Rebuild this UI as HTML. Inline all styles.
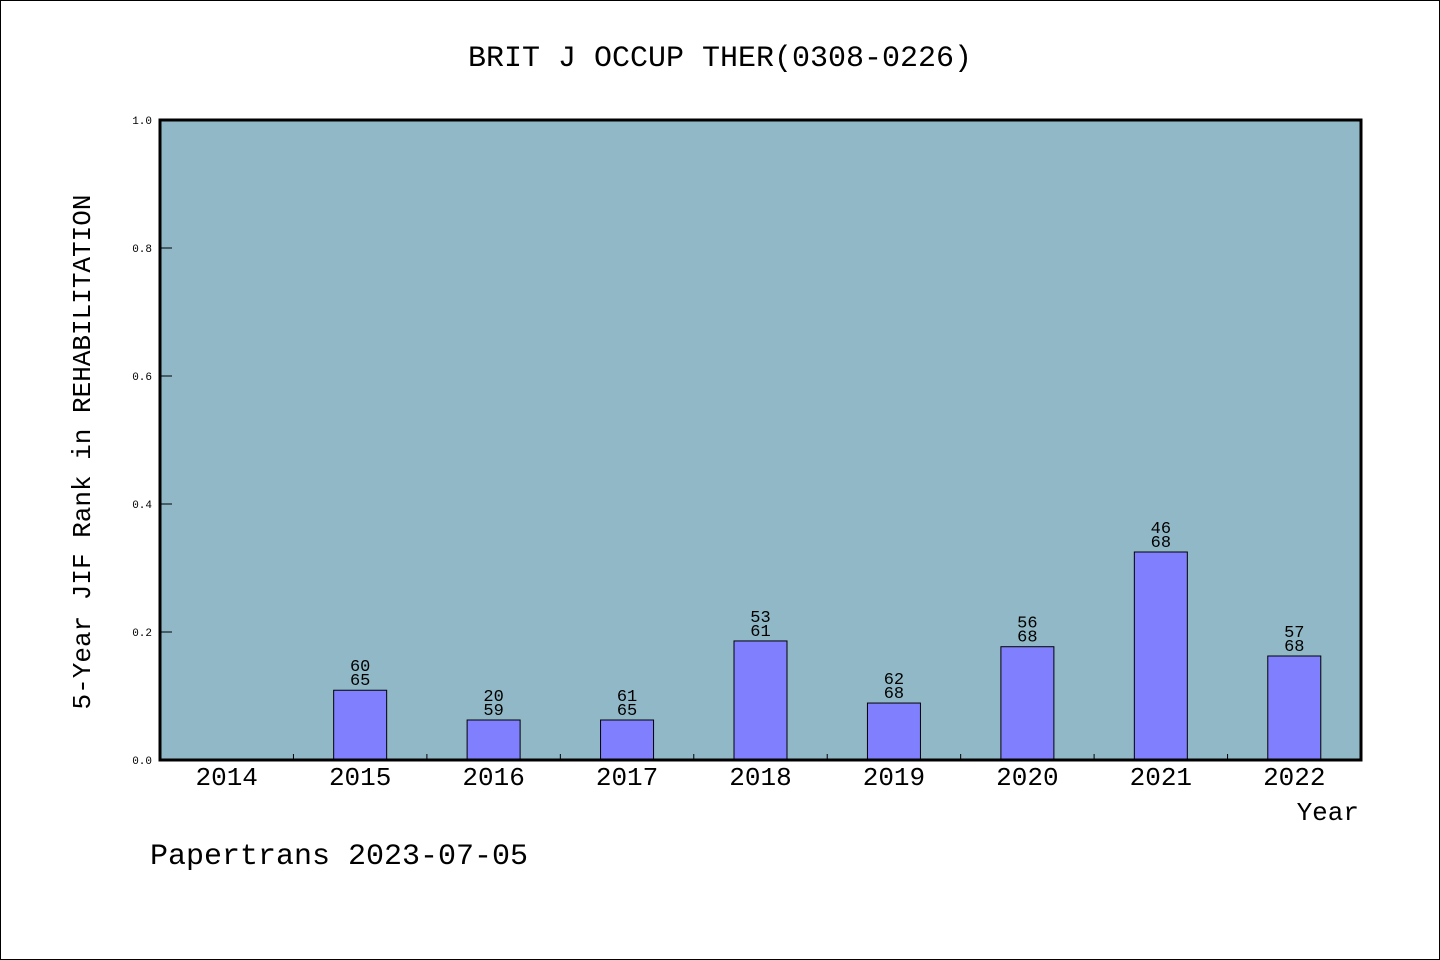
<!DOCTYPE html>
<html><head><meta charset="utf-8"><style>
html,body{margin:0;padding:0;background:#fff;}
svg{display:block;}
text{font-family:"Liberation Mono","DejaVu Sans Mono",monospace;fill:#000;}
</style></head><body>
<svg id="chart" width="1440" height="960" xmlns="http://www.w3.org/2000/svg">
<rect x="0.5" y="0.5" width="1439" height="959" fill="#fff" stroke="#000" stroke-width="1"/>
<text x="720" y="66" font-size="30" text-anchor="middle">BRIT J OCCUP THER(0308-0226)</text>
<rect x="160" y="120" width="1201" height="640" fill="#90b8c6"/>
<g id="yticks"></g>
<g id="bars"></g>
<rect x="160" y="120" width="1201" height="640" fill="none" stroke="#000" stroke-width="3"/>
<text transform="translate(90,452) rotate(-90)" font-size="26" text-anchor="middle">5-Year JIF Rank in REHABILITATION</text>
<text x="1359" y="820" font-size="26" text-anchor="end">Year</text>
<text x="150" y="864" font-size="30">Papertrans 2023-07-05</text>
</svg>
<script>
const categories=["2014","2015","2016","2017","2018","2019","2020","2021","2022"];
const values=[0,0.109,0.0625,0.0625,0.186,0.089,0.177,0.325,0.1625];
const ranks=["","60","20","61","53","62","56","46","57"];
const totals=["","65","59","65","61","68","68","68","57"];
totals[8]="68";
const yTickLabels=["0.0","0.2","0.4","0.6","0.8","1.0"];
const yTickValues=[0,0.2,0.4,0.6,0.8,1.0];
const X0=160,W=1201,Y0=760,H=640;
const bw=W/categories.length;
function yScale(v){return Y0-v*H;}
function xCenter(i){return X0+bw*(i+0.5);}
const NS="http://www.w3.org/2000/svg";
function mk(t,a){const e=document.createElementNS(NS,t);for(const k in a)e.setAttribute(k,a[k]);return e;}
const yt=document.getElementById('yticks');
yTickValues.forEach((v,i)=>{
  const y=yScale(v);
  const l=mk('line',{x1:160,x2:172,y1:y,y2:y,stroke:'#000','stroke-width':1});
  
  
  yt.appendChild(l);
  const t=mk('text',{x:152,y:y+4,'font-size':11,'text-anchor':'end'});
  
  
  t.textContent=yTickLabels[i];yt.appendChild(t);
});
const bg=document.getElementById('bars');
categories.forEach((c,i)=>{
  const cx=xCenter(i);
  if(i>0){
    const tk=mk('line',{x1:X0+bw*i,x2:X0+bw*i,y1:Y0-6,y2:Y0,stroke:'#000','stroke-width':1});
    
    
    bg.appendChild(tk);
  }
  const xl=mk('text',{x:cx,y:785,'font-size':26,'text-anchor':'middle'});
  
  
  xl.textContent=c;bg.appendChild(xl);
  if(values[i]>0){
    const top=yScale(values[i]);
    const r=mk('rect',{x:cx-26.5,y:top,width:53,height:Y0-top,fill:'#8080ff',stroke:'#000','stroke-width':1});
    
    
    bg.appendChild(r);
    const t1=mk('text',{x:cx,y:top-19,'font-size':17,'text-anchor':'middle'});
    
    
    t1.textContent=ranks[i];bg.appendChild(t1);
    const t2=mk('text',{x:cx,y:top-5,'font-size':17,'text-anchor':'middle'});
    
    
    t2.textContent=totals[i];bg.appendChild(t2);
  }
});
</script>
</body></html>
